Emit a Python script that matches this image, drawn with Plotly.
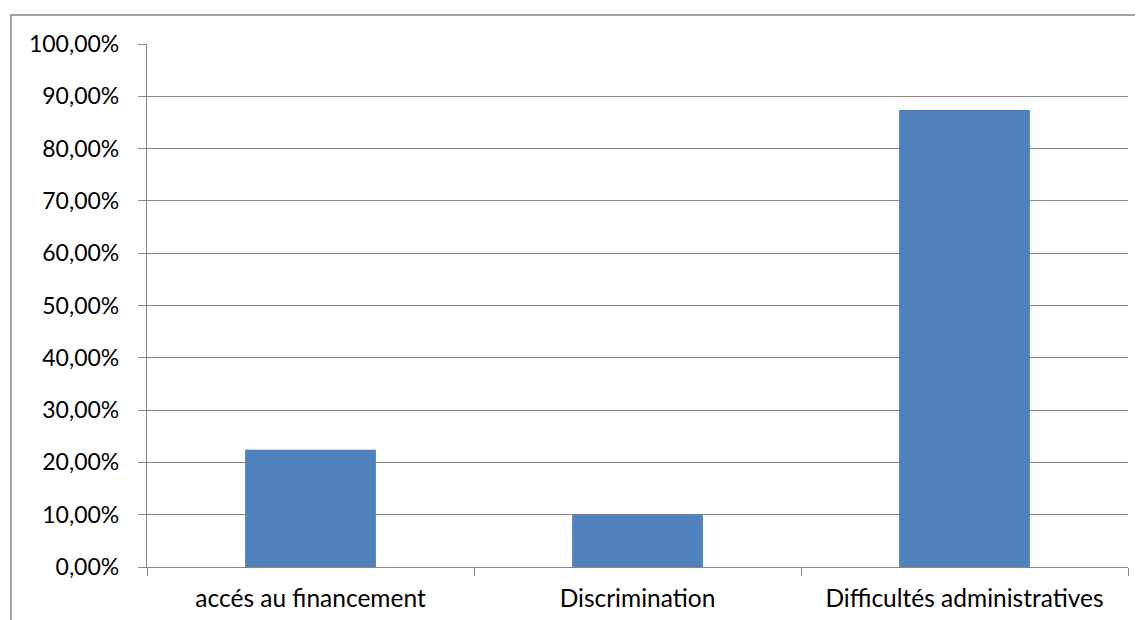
import plotly.graph_objects as go

categories = ["accés au financement", "Discrimination", "Difficultés administratives"]
values = [0.224, 0.10, 0.874]

GRID = "#868686"
fig = go.Figure(go.Bar(x=categories, y=values, marker=dict(color="#4F81BD", line=dict(width=0))))

# page has an 8px body margin; compensate
L, R, T, B = 139, 15, 36, 53
W, H = 1135, 612
pw = W - L - R
ph = H - T - B
fig.update_layout(
    width=W, height=H,
    margin=dict(l=L, r=R, t=T, b=B),
    paper_bgcolor="white", plot_bgcolor="white",
    separators=", ",
    bargap=0.6,
    showlegend=False,
    font=dict(family="Lato, Carlito, Calibri, sans-serif", size=20, color="#000000"),
    shapes=[dict(type="rect", xref="paper", yref="paper",
                 x0=(3 - L) / pw, x1=1.2, y0=-0.3, y1=(ph + T - 7) / ph,
                 line=dict(color=GRID, width=1.5), fillcolor="rgba(0,0,0,0)", layer="below")],
)
fig.update_yaxes(range=[0, 1], dtick=0.1, tickformat=".2%", showgrid=True, gridcolor=GRID, gridwidth=1.3,
                 showline=True, linecolor=GRID, linewidth=1.3, ticks="outside", ticklen=8, tickcolor=GRID,
                 ticklabelstandoff=14, zeroline=False, tickfont=dict(size=23), automargin=False)
fig.update_xaxes(showline=True, linecolor=GRID, linewidth=1.3, ticks="outside", ticklen=8, tickcolor=GRID,
                 tickson="boundaries", showgrid=False, tickfont=dict(size=24.5), ticklabelstandoff=9,
                 automargin=False)

fig.write_html("out.html")
